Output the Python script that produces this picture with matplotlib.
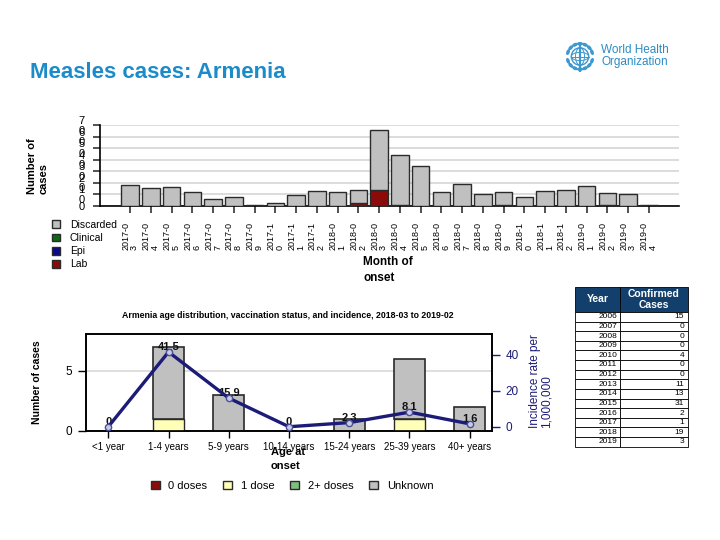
import matplotlib
matplotlib.use('Agg')
import matplotlib.pyplot as plt
from matplotlib.patches import Patch, Rectangle, Circle, Ellipse
import numpy as np

plt.rcParams['font.family'] = ['Liberation Sans', 'DejaVu Sans']

# monthly cases by classification, 2017-03 .. 2019-04
months = ['2017-03', '2017-04', '2017-05', '2017-06', '2017-07', '2017-08', '2017-09',
          '2017-10', '2017-11', '2017-12', '2018-01', '2018-02', '2018-03', '2018-04',
          '2018-05', '2018-06', '2018-07', '2018-08', '2018-09', '2018-10', '2018-11',
          '2018-12', '2019-01', '2019-02', '2019-03', '2019-04']
lab = [0, 0, 0, 0, 0, 0, 0, 0, 0, 0, 0, 2, 14, 1, 0, 0, 0, 0, 1, 0, 0, 0, 0, 1, 0, 0]
epi = [0] * 26
clinical = [0] * 26
discarded = [18, 15, 16, 12, 6, 8, 1, 2, 9, 13, 12, 12, 52, 43, 35, 12, 19, 10, 11, 8,
             13, 14, 17, 10, 10, 1]

# age distribution, 2018-03 to 2019-02
age_groups = ['<1 year', '1-4 years', '5-9 years', '10-14 years', '15-24 years',
              '25-39 years', '40+ years']
dose0 = [0, 0, 0, 0, 0, 0, 0]
dose1 = [0, 1, 0, 0, 0, 1, 0]
dose2 = [0, 0, 0, 0, 0, 0, 0]
unknown = [0, 6, 3, 0, 1, 5, 2]
incidence = [0, 41.5, 15.9, 0, 2.3, 8.1, 1.6]

# confirmed cases per year
years = [2006, 2007, 2008, 2009, 2010, 2011, 2012, 2013, 2014, 2015, 2016, 2017, 2018, 2019]
confirmed = [15, 0, 0, 0, 4, 0, 0, 11, 13, 31, 2, 1, 19, 3]

C_DISC = '#c0c0c0'
C_CLIN = '#0b6b14'
C_EPI = '#0a0a8c'
C_LAB = '#8b0a0a'
C_D1 = '#ffffb8'
C_D2 = '#7fbf7f'
NAVY = '#1c1c78'
BLUE = '#1b8bc9'
EDGE = '#2a2a2a'

fig = plt.figure(figsize=(7.2, 5.4), dpi=100)

fig.text(30/720, 1-73/540, 'Measles cases: Armenia', fontsize=16, fontweight='bold',
         color=BLUE, va='center', ha='left')

# WHO emblem + name
axl = fig.add_axes([565/720, 1-71.5/540, 30/720, 30/540])
axl.set_xlim(-1, 1)
axl.set_ylim(-1, 1)
axl.axis('off')
lc = '#3d98cf'
axl.add_patch(Circle((0, 0), 0.58, fill=False, ec=lc, lw=1.0))
axl.add_patch(Ellipse((0, 0), 0.6, 1.16, fill=False, ec=lc, lw=0.7))
axl.add_patch(Ellipse((0, 0), 1.16, 0.55, fill=False, ec=lc, lw=0.7))
axl.plot([-0.58, 0.58], [0, 0], color=lc, lw=0.7)
for a in list(np.linspace(200, 340, 7)) + list(np.linspace(20, 160, 7)):
    r = np.deg2rad(a)
    axl.add_patch(Ellipse((0.85*np.cos(r), 0.85*np.sin(r)), 0.3, 0.14, angle=a+90,
                          color=lc))
axl.plot([0, 0], [-0.95, 0.95], color=lc, lw=1.6)
fig.text(601/720, 1-56/540, 'World Health\nOrganization', fontsize=8.5, color='#2a8cc4',
         ha='left', va='center', linespacing=1.0)

# ---- top chart: epi curve
ax1 = fig.add_axes([100/720, 1-205.7/540, 579/720, 80.4/540])
x = np.arange(len(months))
base = np.zeros(len(months))
for vals, col in [(lab, C_LAB), (epi, C_EPI), (clinical, C_CLIN), (discarded, C_DISC)]:
    v = np.array(vals, dtype=float)
    m = v > 0
    ax1.bar(x[m], v[m], 0.85, bottom=base[m], color=col, edgecolor=EDGE, linewidth=1.0,
            zorder=3)
    base += v
ax1.set_xlim(-1.45, 26.45)
ax1.set_ylim(0, 70)
ax1.set_yticks(range(0, 71, 10))
ax1.set_yticklabels(['0'] + ['%d\n0' % (t // 10) for t in range(10, 71, 10)],
                    fontsize=8, linespacing=0.95)
ax1.set_xticks(x)
ax1.set_xticklabels([m[:6] + '\n' + m[6:] for m in months], rotation=90, fontsize=6.5,
                    linespacing=1.0)
for t in ax1.get_xticklabels():
    t.set_multialignment('left')
ax1.tick_params(axis='x', length=5, width=1.2, color='#333333', pad=7)
ax1.tick_params(axis='y', length=5, width=1.2, color='#333333', pad=6)
ax1.yaxis.grid(True, color='#d9d9d9', linewidth=1.3)
ax1.set_axisbelow(True)
ax1.spines['top'].set_visible(False)
ax1.spines['right'].set_visible(False)
ax1.spines['left'].set_linewidth(1.2)
ax1.spines['bottom'].set_linewidth(1.2)
fig.text(38/720, 1-166/540, 'Number of\ncases', rotation=90, fontsize=8, fontweight='bold',
         ha='center', va='center', multialignment='left')
fig.text(363/720, 1-270/540, 'Month of\nonset', fontsize=8.5, fontweight='bold',
         ha='left', va='center', linespacing=1.5)

leg1 = [Patch(facecolor=C_DISC, edgecolor=EDGE, label='Discarded'),
        Patch(facecolor=C_CLIN, edgecolor=EDGE, label='Clinical'),
        Patch(facecolor=C_EPI, edgecolor=EDGE, label='Epi'),
        Patch(facecolor=C_LAB, edgecolor=EDGE, label='Lab')]
fig.legend(handles=leg1, loc='upper left', bbox_to_anchor=(52/720, 1-220/540),
           frameon=False, fontsize=7.5, handlelength=0.8, handleheight=0.8,
           labelspacing=0.3, handletextpad=0.9, borderpad=0, borderaxespad=0)

# ---- bottom chart: age distribution
fig.text(288/720, 1-316/540,
         'Armenia age distribution, vaccination status, and incidence, 2018-03 to 2019-02',
         fontsize=6.3, fontweight='bold', ha='center', va='center')
ax2 = fig.add_axes([86/720, 1-430.7/540, 406/720, 96.4/540])
xa = np.arange(len(age_groups))
base = np.zeros(len(age_groups))
for vals, col in [(dose0, C_LAB), (dose1, C_D1), (dose2, C_D2)]:
    v = np.array(vals, dtype=float)
    m = v > 0
    ax2.bar(xa[m], v[m], 0.51, bottom=base[m], color=col, edgecolor=EDGE, linewidth=1.0,
            zorder=3)
    base += v
ax2.bar(xa, unknown, 0.51, bottom=base, color=C_DISC, edgecolor=EDGE, linewidth=1.2, zorder=3)
ax2.set_xlim(-0.37, 6.37)
ax2.set_ylim(0, 8.03)
ax2.set_yticks([0, 5])
ax2.set_xticks(xa)
ax2.set_xticklabels(age_groups, fontsize=7)
ax2.tick_params(axis='y', labelsize=8.5, length=6, width=1.0, pad=4)
ax2.tick_params(axis='x', length=5, width=1.0, pad=3)
ax2.yaxis.grid(True, color='#d9d9d9', linewidth=1.2)
ax2.set_axisbelow(True)
for s in ax2.spines.values():
    s.set_linewidth(1.2)
fig.text(37/720, 1-382/540, 'Number of cases', rotation=90, fontsize=7.5, fontweight='bold',
         ha='center', va='center')
fig.text(271/720, 1-459/540, 'Age at\nonset', fontsize=8, fontweight='bold',
         ha='left', va='center', linespacing=1.4)

ax3 = ax2.twinx()
ax3.plot(xa, incidence, color=NAVY, linewidth=2.4, marker='o', markersize=4.5,
         markerfacecolor='#c8cbe6', markeredgecolor='#4a4f96', markeredgewidth=1.0, zorder=5)
for xi, v in zip(xa, incidence):
    ax3.annotate('%g' % v, (xi, v), xytext=(0, 3.5), textcoords='offset points',
                 ha='center', va='center', fontsize=8, fontweight='bold', color='#111111')
ax3.set_ylim(-2.2, 51.3)
ax3.set_yticks([0, 20, 40])
ax3.tick_params(axis='y', labelsize=8.5, length=6, width=1.0, colors=NAVY, pad=4)
for s in ax3.spines.values():
    s.set_linewidth(1.2)
fig.text(541/720, 1-381/540, 'Incidence rate per\n1,000,000', rotation=90, fontsize=8.5,
         color=NAVY, ha='center', va='center', multialignment='left', linespacing=1.0)

leg2 = [Patch(facecolor=C_LAB, edgecolor=EDGE, label='0 doses'),
        Patch(facecolor=C_D1, edgecolor=EDGE, label='1 dose'),
        Patch(facecolor=C_D2, edgecolor=EDGE, label='2+ doses'),
        Patch(facecolor=C_DISC, edgecolor=EDGE, label='Unknown')]
fig.legend(handles=leg2, loc='center', bbox_to_anchor=(292/720, 1-486/540), ncol=4,
           frameon=False, fontsize=8, handlelength=0.8, handleheight=0.8,
           handletextpad=0.8, columnspacing=1.4, borderpad=0, borderaxespad=0)

# ---- table of confirmed cases
axt = fig.add_axes([575/720, 1-446.7/540, 113/720, 160/540])
axt.set_xlim(0, 113)
axt.set_ylim(160, 0)
axt.axis('off')
hh = 25.3
rh = (160 - hh) / len(years)
axt.add_patch(Rectangle((0, 0), 113, hh, facecolor='#123f6b', edgecolor='black', lw=0.6,
                        clip_on=False))
axt.plot([45, 45], [0, hh], color='black', lw=0.6, clip_on=False)
axt.text(22.5, hh / 2, 'Year', color='white', fontsize=7.5, fontweight='bold',
         ha='center', va='center')
axt.text(79, hh / 2, 'Confirmed\nCases', color='white', fontsize=7.5, fontweight='bold',
         ha='center', va='center', linespacing=1.1)
for i, (yr, n) in enumerate(zip(years, confirmed)):
    y0 = hh + i * rh
    axt.add_patch(Rectangle((0, y0), 45, rh, facecolor='white', edgecolor='black', lw=0.6,
                            clip_on=False))
    axt.add_patch(Rectangle((45, y0), 68, rh, facecolor='white', edgecolor='black', lw=0.6,
                            clip_on=False))
    axt.text(42, y0 + rh / 2, str(yr), fontsize=6, ha='right', va='center')
    axt.text(109, y0 + rh / 2, str(n), fontsize=6, ha='right', va='center')

fig.savefig('out.png', dpi=100)
